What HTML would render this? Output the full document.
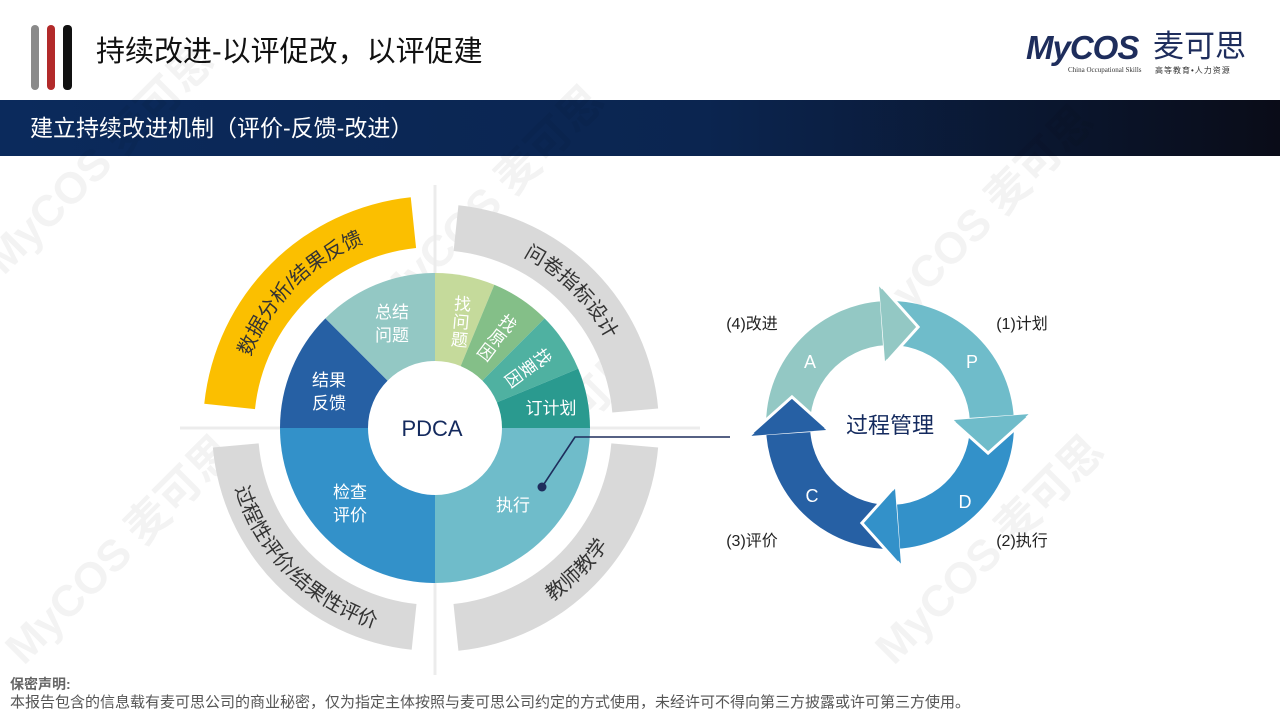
<!DOCTYPE html>
<html><head><meta charset="utf-8">
<style>
html,body{margin:0;padding:0;background:#fff;}
body{width:1280px;height:719px;position:relative;overflow:hidden;font-family:"Liberation Sans","Noto Sans CJK SC",sans-serif;}
.abs{position:absolute;white-space:nowrap;}
</style></head>
<body>
<div class="abs" style="left:31px;top:25px;width:8px;height:65px;background:#8a8a8a;border-radius:4px;"></div>
<div class="abs" style="left:47px;top:25px;width:8px;height:65px;background:#b22a2a;border-radius:4px;"></div>
<div class="abs" style="left:63px;top:25px;width:9px;height:65px;background:#111;border-radius:4px;"></div>
<div class="abs" style="left:96px;top:33px;font-size:29px;color:#111;line-height:38px;">持续改进-以评促改，以评促建</div>
<div class="abs" style="left:1026px;top:30px;font-size:33px;font-weight:bold;font-style:italic;color:#1e2d5c;line-height:36px;letter-spacing:-1px;">MyCOS</div>
<div class="abs" style="left:1153px;top:29px;font-size:31px;color:#1e2d5c;line-height:36px;">麦可思</div>
<div class="abs" style="left:1068px;top:66px;font-size:7px;color:#333;font-family:'Liberation Serif',serif;">China Occupational Skills</div>
<div class="abs" style="left:1155px;top:65px;font-size:8px;color:#333;letter-spacing:1px;">高等教育•人力资源</div>
<div class="abs" style="left:0;top:100px;width:1280px;height:56px;background:linear-gradient(90deg,#0b2a5c 0%,#0b2550 55%,#0a0c18 100%);"></div>
<div class="abs" style="left:30px;top:113px;font-size:23px;color:#fff;line-height:30px;">建立持续改进机制（评价-反馈-改进）</div>

<svg class="abs" style="left:0;top:0" width="1280" height="719" viewBox="0 0 1280 719" xmlns="http://www.w3.org/2000/svg">
 <g fill="#000" opacity="0.05" font-weight="bold" font-family="Liberation Sans, Noto Sans CJK SC, sans-serif" font-size="44">
  <text transform="translate(110,170) rotate(-45)" text-anchor="middle">MyCOS 麦可思</text>
  <text transform="translate(500,210) rotate(-45)" text-anchor="middle">MyCOS 麦可思</text>
  <text transform="translate(540,470) rotate(-45)" text-anchor="middle">MyCOS 麦可思</text>
  <text transform="translate(990,230) rotate(-45)" text-anchor="middle">MyCOS 麦可思</text>
  <text transform="translate(1000,560) rotate(-45)" text-anchor="middle">MyCOS 麦可思</text>
  <text transform="translate(130,560) rotate(-45)" text-anchor="middle">MyCOS 麦可思</text>
 </g>
 <line x1="435" y1="185" x2="435" y2="675" stroke="#ececec" stroke-width="3"/>
 <line x1="180" y1="428" x2="700" y2="428" stroke="#ececec" stroke-width="3"/>
 <g id="bands"></g>
 <g id="pie"></g>
 <circle cx="435" cy="428" r="67" fill="#fff"/>
 <g id="cyc"></g>
 <g id="heads"></g>
 <path id="tp1" fill="none"/><path id="tp2" fill="none"/><path id="tp3" fill="none"/><path id="tp4" fill="none"/>
 <g font-family="Liberation Sans, Noto Sans CJK SC, sans-serif" font-size="20" fill="#333">
  <text><textPath href="#tp1" startOffset="50%" text-anchor="middle">数据分析/结果反馈</textPath></text>
  <text><textPath href="#tp2" startOffset="50%" text-anchor="middle">问卷指标设计</textPath></text>
  <text><textPath href="#tp3" startOffset="50%" text-anchor="middle">教师教学</textPath></text>
  <text><textPath href="#tp4" startOffset="50%" text-anchor="middle">过程性评价/结果性评价</textPath></text>
 </g>
 <g font-family="Liberation Sans, Noto Sans CJK SC, sans-serif" font-size="17" fill="#fff" text-anchor="middle">
  <text x="392" y="318">总结</text><text x="392" y="341">问题</text>
  <text x="329" y="386">结果</text><text x="329" y="409">反馈</text>
  <text x="350" y="498">检查</text><text x="350" y="521">评价</text>
  <text x="513" y="511">执行</text>
  <text x="551" y="414">订计划</text>
  <g transform="translate(461,322) rotate(5)"><text x="0" y="-12">找</text><text x="0" y="6">问</text><text x="0" y="24">题</text></g>
  <g transform="translate(497,338) rotate(37)"><text x="0" y="-12">找</text><text x="0" y="6">原</text><text x="0" y="24">因</text></g>
  <g transform="translate(528,368) rotate(54)"><text x="0" y="-12">找</text><text x="0" y="6">要</text><text x="0" y="24">因</text></g>
 </g>
 <text x="432" y="436" font-family="Liberation Sans, sans-serif" font-size="22" fill="#142a5e" text-anchor="middle">PDCA</text>
 <polyline points="542,487 575,437 730,437" fill="none" stroke="#1e2d5c" stroke-width="1.6"/>
 <circle cx="542" cy="487" r="4.5" fill="#1e2d5c"/>
 <g font-family="Liberation Sans, sans-serif" font-size="18" fill="#fff" text-anchor="middle">
  <text x="810" y="368">A</text><text x="972" y="368">P</text>
  <text x="965" y="508">D</text><text x="812" y="502">C</text>
 </g>
 <text x="890" y="433" font-family="Liberation Sans, Noto Sans CJK SC, sans-serif" font-size="22" fill="#142a5e" text-anchor="middle">过程管理</text>
 <g font-family="Liberation Sans, Noto Sans CJK SC, sans-serif" font-size="16" fill="#222" text-anchor="middle">
  <text x="752" y="329">(4)改进</text><text x="1022" y="329">(1)计划</text>
  <text x="752" y="546">(3)评价</text><text x="1022" y="546">(2)执行</text>
 </g>
</svg>

<div class="abs" style="left:10px;top:675px;font-size:14px;font-weight:bold;color:#666;line-height:18px;">保密声明:</div>
<div class="abs" style="left:10px;top:693px;font-size:15px;color:#555;line-height:20px;">本报告包含的信息载有麦可思公司的商业秘密，仅为指定主体按照与麦可思公司约定的方式使用，未经许可不得向第三方披露或许可第三方使用。</div>

<script>
var NS="http://www.w3.org/2000/svg";
function P(cx,cy,a,r){var t=a*Math.PI/180;return [(cx+r*Math.sin(t)).toFixed(2),(cy-r*Math.cos(t)).toFixed(2)];}
function s(p){return p[0]+" "+p[1];}
function add(g,d,fill,extra){var e=document.createElementNS(NS,"path");e.setAttribute("d",d);e.setAttribute("fill",fill);if(extra)for(var k in extra)e.setAttribute(k,extra[k]);document.getElementById(g).appendChild(e);}
var cx=435,cy=428;
function band(a1,a2,r1,r2,fill){
 var lg=(a2-a1)>180?1:0;
 var d="M"+s(P(cx,cy,a1,r2))+" A"+r2+" "+r2+" 0 "+lg+" 1 "+s(P(cx,cy,a2,r2))+" L"+s(P(cx,cy,a2,r1))+" A"+r1+" "+r1+" 0 "+lg+" 0 "+s(P(cx,cy,a1,r1))+"Z";
 add("bands",d,fill);
}
band(276,354,181,232,"#fbbf00");
band(6,85,178,224,"#d9d9d9");
band(95,174,177,224,"#d9d9d9");
band(186,265,177,223,"#d9d9d9");
function arcPath(id,a1,a2,r,cw){
 var d;
 if(cw) d="M"+s(P(cx,cy,a1,r))+" A"+r+" "+r+" 0 0 1 "+s(P(cx,cy,a2,r));
 else d="M"+s(P(cx,cy,a2,r))+" A"+r+" "+r+" 0 0 0 "+s(P(cx,cy,a1,r));
 document.getElementById(id).setAttribute("d",d);
}
arcPath("tp1",270,360,198,true);
arcPath("tp2",0,90,193,true);
arcPath("tp3",90,180,209,false);
arcPath("tp4",180,270,209,false);
var R=155;
var w=[[0,22.5,"#c5da9b"],[22.5,45,"#84bf88"],[45,67.5,"#4fb1a1"],[67.5,90,"#2a9a8f"],[90,180,"#6fbcca"],[180,270,"#3391c9"],[270,315,"#2660a4"],[315,360,"#93c8c4"]];
w.forEach(function(x){
 add("pie","M"+cx+" "+cy+" L"+s(P(cx,cy,x[0],R))+" A"+R+" "+R+" 0 0 1 "+s(P(cx,cy,x[1],R))+"Z",x[2]);
});
var ccx=890,ccy=425,ri=80,ro=124,mid=102,hi=62,ho=141,H=20;
var bases=[356,86,176,266],cols=["#93c8c4","#6fbcca","#3391c9","#2660a4"];
function Q(a,r){return s(P(ccx,ccy,a,r));}
for(var i=0;i<4;i++){
 var b=bases[i],st=bases[(i+3)%4];if(st>b)st-=360;
 var d="M"+Q(st,ro)+" A"+ro+" "+ro+" 0 0 1 "+Q(b+1,ro)+" L"+Q(b+1,ri)+" A"+ri+" "+ri+" 0 0 0 "+Q(st,ri)+"Z";
 add("cyc",d,cols[i]);
}
for(var i=0;i<4;i++){
 var b=bases[i];
 var d="M"+Q(b,ho)+" L"+Q(b+H,mid)+" L"+Q(b,hi)+"Z";
 add("heads",d,cols[i],{"stroke":"#fff","stroke-width":"3","stroke-linejoin":"miter"});
 // re-cover the base edge of head so only slanted edges show white
 var d2="M"+Q(b-0.5,ho-2)+" L"+Q(b+H-1.5,mid)+" L"+Q(b-0.5,hi+2)+"Z";
 add("heads",d2,cols[i]);
}
</script>
</body></html>
